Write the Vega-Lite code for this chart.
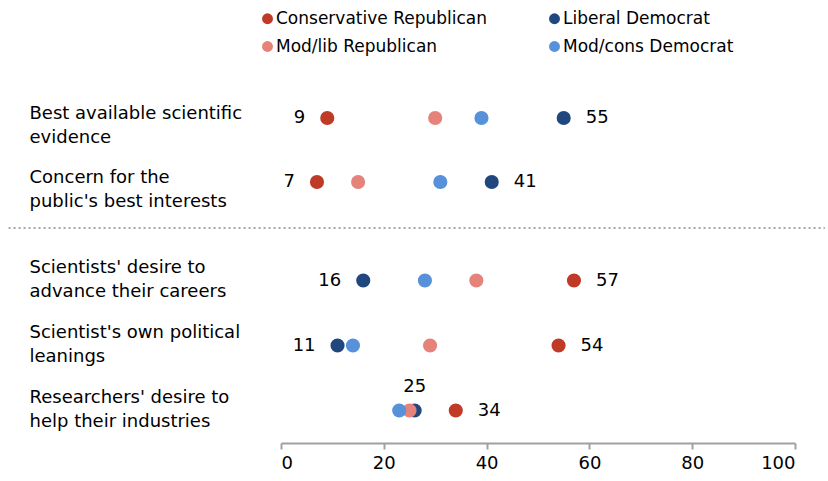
{
  "$schema": "https://vega.github.io/schema/vega-lite/v6.json",
  "padding": {"left": 7, "top": 10, "right": 2, "bottom": 5},
  "autosize": {"type": "pad"},
  "background": "white",
  "config": {"view": {"stroke": null}, "font": "DejaVu Sans"},
  "datasets": {
    "d": [
      {"section": "top", "item": "Best available scientific|evidence", "party": "Conservative Republican", "value": 9, "label": "9"},
      {"section": "top", "item": "Best available scientific|evidence", "party": "Liberal Democrat", "value": 55, "label": "55"},
      {"section": "top", "item": "Best available scientific|evidence", "party": "Mod/lib Republican", "value": 30, "label": ""},
      {"section": "top", "item": "Best available scientific|evidence", "party": "Mod/cons Democrat", "value": 39, "label": ""},
      {"section": "top", "item": "Concern for the|public's best interests", "party": "Conservative Republican", "value": 7, "label": "7"},
      {"section": "top", "item": "Concern for the|public's best interests", "party": "Liberal Democrat", "value": 41, "label": "41"},
      {"section": "top", "item": "Concern for the|public's best interests", "party": "Mod/lib Republican", "value": 15, "label": ""},
      {"section": "top", "item": "Concern for the|public's best interests", "party": "Mod/cons Democrat", "value": 31, "label": ""},
      {"section": "bottom", "item": "Scientists' desire to|advance their careers", "party": "Conservative Republican", "value": 57, "label": "57"},
      {"section": "bottom", "item": "Scientists' desire to|advance their careers", "party": "Liberal Democrat", "value": 16, "label": "16"},
      {"section": "bottom", "item": "Scientists' desire to|advance their careers", "party": "Mod/lib Republican", "value": 38, "label": ""},
      {"section": "bottom", "item": "Scientists' desire to|advance their careers", "party": "Mod/cons Democrat", "value": 28, "label": ""},
      {"section": "bottom", "item": "Scientist's own political|leanings", "party": "Conservative Republican", "value": 54, "label": "54"},
      {"section": "bottom", "item": "Scientist's own political|leanings", "party": "Liberal Democrat", "value": 11, "label": "11"},
      {"section": "bottom", "item": "Scientist's own political|leanings", "party": "Mod/lib Republican", "value": 29, "label": ""},
      {"section": "bottom", "item": "Scientist's own political|leanings", "party": "Mod/cons Democrat", "value": 14, "label": ""},
      {"section": "bottom", "item": "Researchers' desire to|help their industries", "party": "Conservative Republican", "value": 34, "label": "34"},
      {"section": "bottom", "item": "Researchers' desire to|help their industries", "party": "Liberal Democrat", "value": 26, "label": "25"},
      {"section": "bottom", "item": "Researchers' desire to|help their industries", "party": "Mod/lib Republican", "value": 25, "label": ""},
      {"section": "bottom", "item": "Researchers' desire to|help their industries", "party": "Mod/cons Democrat", "value": 23, "label": ""}
    ]
  },
  "data": {"name": "d"},
  "spacing": 19,
  "vconcat": [
    {
      "width": 514,
      "height": 196,
      "transform": [{"filter": "datum.section == 'top'"}],
      "encoding": {
        "x": {"field": "value", "type": "quantitative", "scale": {"domain": [0, 100], "nice": false}, "axis": null},
        "y": {"field": "item", "type": "nominal", "sort": null, "scale": {"type": "point", "padding": 0, "range": [86, 150]},
          "axis": {"title": null, "domain": false, "ticks": false, "labelAlign": "left", "labelPadding": 252,
            "labelFontSize": 18, "labelColor": "#000", "labelLineHeight": 24, "labelExpr": "split(datum.label, '|')",
            "labelLimit": 0, "labelBaseline": "middle", "labelOffset": -5}}
      },
      "layer": [
        {
          "transform": [{"filter": "datum.party == 'Conservative Republican' && datum.value == 7"}],
          "mark": {"type": "rule", "clip": false, "stroke": "#a6a6a6", "strokeDash": [2, 3], "strokeWidth": 2},
          "encoding": {
            "x": {"datum": -53, "type": "quantitative"},
            "x2": {"datum": 105.8},
            "y": {"value": 196}
          }
        },
        {
          "mark": {"type": "point", "filled": true, "opacity": 1, "size": 200},
          "encoding": {
            "color": {"field": "party", "type": "nominal",
              "scale": {"domain": ["Conservative Republican", "Mod/lib Republican", "Liberal Democrat", "Mod/cons Democrat"],
                "range": ["#BF3B27", "#E5837A", "#21487E", "#5691D9"]},
              "legend": {"orient": "top-left", "offset": -22, "columns": 2, "columnPadding": 59, "rowPadding": 10, "labelLimit": 0,
                "symbolType": "circle", "symbolSize": 120, "symbolOpacity": 1, "labelFontSize": 17, "labelColor": "#000", "title": null, "labelOffset": 0}}
          }
        },
        {
          "transform": [{"filter": "datum.party == 'Conservative Republican'"}],
          "mark": {"type": "text", "align": "right", "baseline": "middle", "dx": -22, "fontSize": 18, "color": "#000"},
          "encoding": {"text": {"field": "label"}}
        },
        {
          "transform": [{"filter": "datum.party == 'Liberal Democrat'"}],
          "mark": {"type": "text", "align": "left", "baseline": "middle", "dx": 22, "fontSize": 18, "color": "#000"},
          "encoding": {"text": {"field": "label"}}
        }
      ]
    },
    {
      "width": 514,
      "height": 195,
      "transform": [{"filter": "datum.section == 'bottom'"}],
      "encoding": {
        "x": {"field": "value", "type": "quantitative", "scale": {"domain": [0, 100], "nice": false},
          "axis": {"title": null, "values": [0, 20, 40, 60, 80, 100], "grid": false, "domainColor": "#a0a0a0", "domainWidth": 2,
            "tickColor": "#a0a0a0", "tickWidth": 2, "tickSize": 6, "labelFontSize": 18, "labelColor": "#000", "labelPadding": 5}},
        "y": {"field": "item", "type": "nominal", "sort": null, "scale": {"type": "point", "padding": 0.5},
          "axis": {"title": null, "domain": false, "ticks": false, "labelAlign": "left", "labelPadding": 252,
            "labelFontSize": 18, "labelColor": "#000", "labelLineHeight": 24, "labelExpr": "split(datum.label, '|')",
            "labelLimit": 0, "labelBaseline": "middle", "labelOffset": -13}}
      },
      "layer": [
        {
          "mark": {"type": "point", "filled": true, "opacity": 1, "size": 200},
          "encoding": {
            "color": {"field": "party", "type": "nominal"}
          }
        },
        {
          "transform": [{"filter": "datum.party == 'Liberal Democrat' && datum.value != 26"}],
          "mark": {"type": "text", "align": "right", "baseline": "middle", "dx": -22, "fontSize": 18, "color": "#000"},
          "encoding": {"text": {"field": "label"}}
        },
        {
          "transform": [{"filter": "datum.party == 'Conservative Republican'"}],
          "mark": {"type": "text", "align": "left", "baseline": "middle", "dx": 22, "fontSize": 18, "color": "#000"},
          "encoding": {"text": {"field": "label"}}
        },
        {
          "transform": [{"filter": "datum.party == 'Liberal Democrat' && datum.value == 26"}],
          "mark": {"type": "text", "align": "center", "baseline": "middle", "dy": -24, "fontSize": 18, "color": "#000"},
          "encoding": {"text": {"field": "label"}}
        }
      ]
    }
  ]
}
